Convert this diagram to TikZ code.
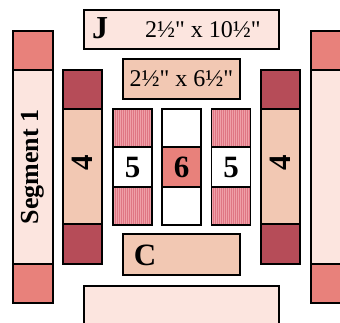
\documentclass[tikz,border=0pt]{standalone}
\usepackage{fontspec}
\setmainfont{Liberation Serif}[Ligatures=TeXOff]
\usepackage{xcolor}
\definecolor{blush}{HTML}{FCE5DF}
\definecolor{sand}{HTML}{F2C8B3}
\definecolor{salmon}{HTML}{E8817B}
\definecolor{wine}{HTML}{B64C58}
\definecolor{rose}{HTML}{EFA0A8}
\definecolor{roseline}{HTML}{DF7684}
\tikzstyle{piece} = [draw, line width=1.2pt, inner sep=0pt, outer sep=0pt]
\tikzstyle{light} = [piece, fill=blush]
\tikzstyle{tanbox} = [piece, fill=sand]
\tikzstyle{corner} = [piece, fill=salmon, minimum width=40pt, minimum height=39pt]
\tikzstyle{dark} = [piece, fill=wine, minimum width=39pt, minimum height=39pt]
\tikzstyle{cell} = [piece, fill=white, minimum width=39pt, minimum height=40pt]
\tikzstyle{striped} = [piece, fill=rose, minimum width=39pt, minimum height=38pt,
  path picture={\foreach \k in {1,...,19}
    \draw[roseline, line width=0.5pt] ([xshift=\k*2pt]path picture bounding box.south west)
      -- ([xshift=\k*2pt]path picture bounding box.north west);}]
\tikzstyle{big} = [font=\fontsize{31}{31}\selectfont\bfseries]
\tikzstyle{dim} = [font=\fontsize{24}{24}\selectfont]

\begin{document}
\begin{tikzpicture}[x=1pt,y=-1pt]
    \useasboundingbox (0,0) rectangle (340,322);

    % segment 1 (left) and its twin on the right
    \node (segL) [light, minimum width=40pt, minimum height=194pt] at (33,167) {};
    \node (segLtop) [corner] at (33,50.5) {};
    \node (segLbot) [corner] at (33,283.5) {};
    \node [big, font=\fontsize{26}{26}\selectfont\bfseries, rotate=90] (segtext) at (segL.center) {Segment 1};

    \node (segR) [light, minimum width=40pt, minimum height=194pt] at (331,167) {};
    \node (segRtop) [corner] at (331,50.5) {};
    \node (segRbot) [corner] at (331,283.5) {};

    % the two 4 strips
    \node (fourL) [tanbox, minimum width=39pt, minimum height=115pt] at (82.5,166.5) {};
    \node (fourLtop) [dark] at (82.5,89.5) {};
    \node (fourLbot) [dark, minimum height=40pt] at (82.5,244) {};
    \node (fourLtext) [big, rotate=90] at (82.5,163) {4};

    \node (fourR) [tanbox, minimum width=39pt, minimum height=115pt] at (280.5,166.5) {};
    \node (fourRtop) [dark] at (280.5,89.5) {};
    \node (fourRbot) [dark, minimum height=40pt] at (280.5,244) {};
    \node (fourRtext) [big, rotate=90] at (280.5,163) {4};

    % J and the 2.5 x 6.5 strip
    \node (jbox) [light, minimum width=195pt, minimum height=39pt] at (181.5,29.5) {};
    \node (jlabel) [big, font=\fontsize{32}{32}\selectfont\bfseries] at (100,28) {J};
    \node (jdim) [dim] at (203,30) {2½" x 10½"};

    \node (dimbox) [tanbox, minimum width=117pt, minimum height=40pt] at (181.5,79) {};
    \node (dimtext) [dim] at (181.5,79) {2½" x 6½"};

    % centre block 5 / 6 / 5
    \node (fiveLtop) [striped] at (132.5,128) {};
    \node (fiveL) [cell, big] at (132.5,167) {5};
    \node (fiveLbot) [striped] at (132.5,206) {};

    \node (sixtop) [cell, minimum height=38pt] at (181.5,128) {};
    \node (six) [cell, big, fill=salmon] at (181.5,167) {6};
    \node (sixbot) [cell, minimum height=38pt] at (181.5,206) {};

    \node (fiveRtop) [striped] at (231,128) {};
    \node (fiveR) [cell, big] at (231,167) {5};
    \node (fiveRbot) [striped] at (231,206) {};

    % C and the bottom strip
    \node (cbox) [tanbox, minimum width=117pt, minimum height=41pt] at (181.5,254.5) {};
    \node (clabel) [big] at (145,255) {C};

    \node (bottom) [light, minimum width=195pt, minimum height=68pt] at (181.5,320) {};

  \end{tikzpicture}
\end{document}
